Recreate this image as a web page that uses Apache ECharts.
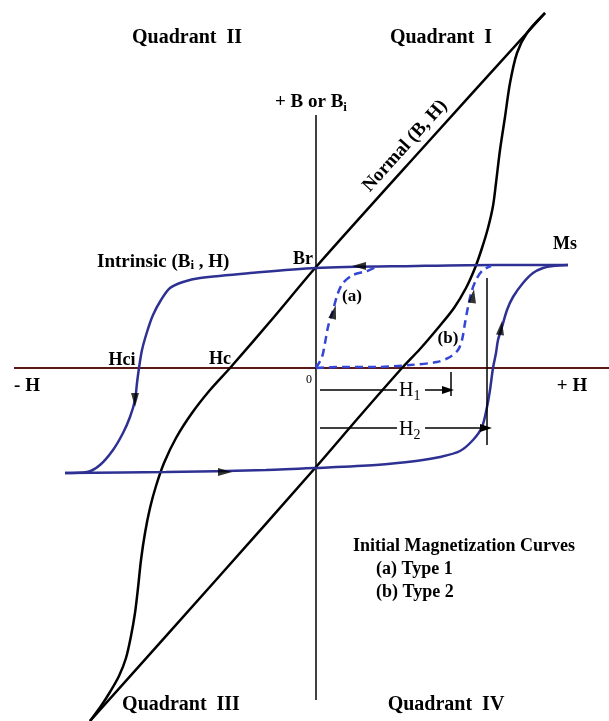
<!DOCTYPE html>
<html>
<head>
<meta charset="utf-8">
<script src="https://cdn.jsdelivr.net/npm/echarts@6/dist/echarts.min.js"></script>
<style>
html, body { margin: 0; padding: 0; background: #fff; }
#chart { width: 609px; height: 721px; }
</style>
</head>
<body>
<div id="chart"></div>
<script>
// H to the right, B (or Bi) up, origin where the two axes cross
var normalDown = [
	[229, 355], [104, 217], [0, 101], [-42, 51], [-86, 0], [-106, -22], [-124, -45],
	[-140, -70], [-152, -95], [-160, -118], [-166, -140], [-171, -165], [-175, -192],
	[-178, -220], [-181, -245], [-185, -268], [-190, -290], [-197, -308], [-206, -324],
	[-215, -338], [-226, -353]
];
var normalUp = [
	[-226, -353], [-100, -212], [0, -99], [43, -49], [86, 0], [104, 19], [122, 40],
	[138, 60], [150, 80], [159, 100], [166, 120], [172, 140], [177, 162], [180, 185],
	[184, 218], [189, 251], [194, 285], [201, 315], [211, 335], [229, 355]
];
var intrinsicDown = [
	[252, 103], [180, 103], [100, 102], [0, 100], [-66, 95], [-116, 90], [-133, 86],
	[-146, 80], [-155, 68], [-163, 53], [-169, 36], [-174, 18], [-177, 0], [-179, -15],
	[-181, -32], [-186, -49], [-193, -65], [-203, -82], [-216, -97], [-229, -104], [-251, -105]
];
var intrinsicUp = [
	[-251, -105], [-150, -104], [-50, -102], [0, -100], [60, -97], [100, -93], [124, -89],
	[144, -83], [157, -72], [166, -59], [171, -39], [174, -22], [177, 0], [180, 15],
	[182, 28], [186, 41], [191, 58], [197, 71], [207, 85], [217, 95], [227, 100], [237, 102], [252, 103]
];
var initialA = [
	[0, 0], [6, 11], [9, 25], [12, 41], [17, 58], [22, 75], [27, 85], [37, 93], [51, 97], [60, 101]
];
var initialB = [
	[0, 0], [27, 1], [61, 1], [94, 3], [121, 6], [134, 11], [142, 18], [146, 28],
	[149, 45], [152, 61], [156, 78], [161, 90], [167, 98], [175, 102]
];
var hAxisEnds = [[-302, 0], [293, 0]];
var bAxisEnds = [[0, 253], [0, -332]];
var arrowPts = [[43, 102], [-181, -32], [-91, -104], [185, 40], [18, 56], [157, 72]];
var arrowDir = [90, 180, -90, -8, -15, -8];
// H1 / H2 dimension lines: [start, gapStart, gapEnd, tip, level], and marker [x, top, bottom]
var h1Dim = [4, 81, 109, 132, -22];
var h2Dim = [4, 81, 109, 170, -60];
var h1Mark = [135, -4, -28];
var h2Mark = [171, 90, -77];

var chartDom = document.getElementById("chart");
var myChart = echarts.init(chartDom);
var serif = "'Liberation Serif', 'Times New Roman', serif";
var blue = "#2e3192";

function lineSeries(name, data, color, width, type, z) {
	return {
		name: name,
		type: "line",
		data: data,
		symbol: "none",
		smooth: 0.3,
		lineStyle: { color: color, width: width, type: type || "solid" },
		z: z || 2,
		silent: true,
	};
}

function dimLines(d, m) {
	return [
		[{ coord: [d[0], d[4]], symbol: "none" }, { coord: [d[1], d[4]], symbol: "none" }],
		[{ coord: [d[2], d[4]], symbol: "none" }, { coord: [d[3], d[4]], symbol: "triangle", symbolSize: [8, 12] }],
		[{ coord: [m[0], m[1]], symbol: "none" }, { coord: [m[0], m[2]], symbol: "none" }],
	];
}

function txt(x, y, s, size, align, extra) {
	var el = {
		type: "text",
		x: x,
		y: y,
		style: {
			text: s,
			fontFamily: serif,
			fontSize: size,
			fontWeight: "bold",
			fill: "#000",
			align: align || "center",
			textAlign: align || "center",
			verticalAlign: "middle",
			textVerticalAlign: "middle",
		},
		z: 100,
	};
	if (extra) {
		for (var k in extra) el[k] = extra[k];
	}
	return el;
}

function subTxt(x, y, main, sub, size, weight) {
	var el = txt(x, y, "{m|" + main + "}{s|" + sub + "}", size, "left");
	el.style.rich = {
		m: { fontFamily: serif, fontSize: size, fontWeight: weight, fill: "#000" },
		s: { fontFamily: serif, fontSize: Math.round(size * 0.68), fontWeight: weight, fill: "#000", padding: [11, 0, 0, 0] },
	};
	return el;
}

var zero = txt(309, 380, "0", 12);
zero.style.fontWeight = "normal";

var option = {
	animation: false,
	grid: { left: 0, right: 0, top: 0, bottom: 0 },
	xAxis: { type: "value", min: -316, max: 293, show: false },
	yAxis: { type: "value", min: -353, max: 368, show: false },
	series: [
		lineSeries("H axis", hAxisEnds, "#5a1818", 2, "solid", 1),
		lineSeries("B axis", bAxisEnds, "#000", 1.5, "solid", 1),
		lineSeries("Normal down", normalDown, "#000", 2.5),
		lineSeries("Normal up", normalUp, "#000", 2.5),
		lineSeries("Intrinsic down", intrinsicDown, blue, 2.5, "solid", 3),
		lineSeries("Intrinsic up", intrinsicUp, blue, 2.5, "solid", 3),
		lineSeries("Initial (a)", initialA, "#3446d6", 2.5, [8, 5], 3),
		lineSeries("Initial (b)", initialB, "#3446d6", 2.5, [8, 5], 3),
		{
			name: "dimensions",
			type: "line",
			data: [],
			silent: true,
			markLine: {
				silent: true,
				animation: false,
				label: { show: false },
				lineStyle: { color: "#000", width: 1.5, type: "solid" },
				emphasis: { disabled: true },
				data: dimLines(h1Dim, h1Mark).concat(dimLines(h2Dim, h2Mark)),
			},
			z: 4,
		},
		{
			name: "arrows",
			type: "scatter",
			data: arrowPts,
			symbol: "triangle",
			symbolSize: [8, 14],
			symbolRotate: function (value, params) {
				return arrowDir[params.dataIndex];
			},
			itemStyle: { color: "#000" },
			silent: true,
			z: 5,
		},
	],
	graphic: [
		txt(187, 38, "Quadrant  II", 20),
		txt(441, 38, "Quadrant  I", 20),
		txt(181, 705, "Quadrant  III", 20),
		txt(446, 705, "Quadrant  IV", 20),
		subTxt(275, 102, "+ B or B", "i", 19, "bold"),
		txt(405, 146, "Normal (B, H)", 19, "center", { rotation: (48 * Math.PI) / 180 }),
		txt(565, 244, "Ms", 18),
		txt(303, 259, "Br", 18),
		{
			type: "text",
			x: 97,
			y: 262,
			z: 100,
			style: {
				text: "{m|Intrinsic (B}{s|i}{m| , H)}",
				align: "left",
				textAlign: "left",
				verticalAlign: "middle",
				textVerticalAlign: "middle",
				rich: {
					m: { fontFamily: serif, fontSize: 19, fontWeight: "bold", fill: "#000" },
					s: { fontFamily: serif, fontSize: 13, fontWeight: "bold", fill: "#000", padding: [8, 0, 0, 0] },
				},
			},
		},
		txt(122, 360, "Hci", 18),
		txt(220, 359, "Hc", 18),
		txt(27, 386, "- H", 19),
		txt(572, 386, "+ H", 19),
		zero,
		txt(352, 297, "(a)", 17),
		txt(448, 339, "(b)", 17),
		txt(353, 546, "Initial Magnetization Curves", 18, "left"),
		txt(376, 569, "(a) Type 1", 18, "left"),
		txt(376, 592, "(b) Type 2", 18, "left"),
		subTxt(399, 391, "H", "1", 20, "normal"),
		subTxt(399, 430, "H", "2", 20, "normal"),
	],
};

option && myChart.setOption(option);
</script>
</body>
</html>
